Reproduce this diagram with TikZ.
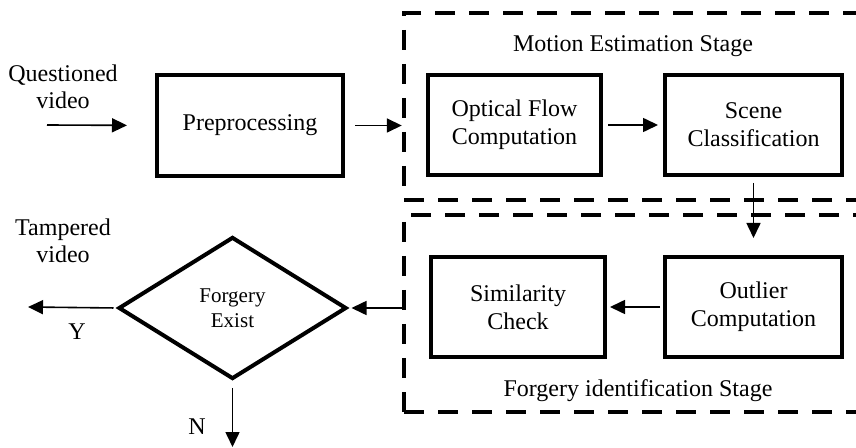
\documentclass[tikz,border=0pt]{standalone}
\usepackage{fontspec}
\setmainfont{Liberation Serif}
\usetikzlibrary{
    shapes.geometric,
    arrows.meta,
    positioning,
    calc
}
\definecolor{bgWhite}{RGB}{255, 255, 255}
\definecolor{lineBlack}{RGB}{0, 0, 0}
\def\picW{856}
\def\picH{448}
\tikzset{
    stepBox/.style={
        rectangle,
        draw=lineBlack,
        line width=2pt,
        fill=bgWhite,
        minimum width=86.5pt,
        minimum height=50pt,
        inner sep=2pt,
        align=center,
        font=\fontsize{12}{14}\selectfont
    },
    decision/.style={
        diamond,
        draw=lineBlack,
        line width=2pt,
        line join=miter,
        fill=bgWhite,
        minimum width=114pt,
        minimum height=71pt,
        inner sep=0pt,
        align=center,
        font=\fontsize{10.5}{12.5}\selectfont
    },
    % Stage frames
    stageFrame/.style={
        rectangle,
        draw=lineBlack,
        line width=2.2pt,
        dash pattern=on 10pt off 7pt,
        inner sep=0pt
    },
    plainText/.style={
        align=center,
        inner sep=0pt,
        text=lineBlack,
        font=\fontsize{12}{13.5}\selectfont
    },
    flowArrow/.style={
        draw=lineBlack,
        line width=0.8pt,
        -{Triangle[length=7.5pt, width=7pt]}
    }
}

\begin{document}
\begin{tikzpicture}[x=0.5pt, y=-0.5pt]
    \useasboundingbox (0,0) rectangle (\picW, \picH);
    \fill[bgWhite] (0,0) rectangle (\picW, \picH);

    % Stage frames (right edge runs off the picture)
    \node[stageFrame, minimum width=238pt, minimum height=93.5pt] (motion) at (642, 106.5) {};
    \node[stageFrame, minimum width=238pt, minimum height=98.5pt] (forgery) at (642, 313.5) {};
    \node[plainText] (motionTitle) at (633, 46) {Motion Estimation Stage};
    \node[plainText] (forgeryTitle) at (638, 391) {Forgery identification Stage};

    % Blocks
    \node[stepBox, minimum width=93pt, minimum height=50.5pt] (pre) at (250, 125.5) {Preprocessing};
    \node[stepBox] (optical) at (514.5, 125) {Optical Flow\\Computation};
    \node[stepBox, minimum width=88.5pt] (scene) at (753.5, 125) {Scene\\Classification};
    \node[stepBox, minimum width=88.5pt] (outlier) at (753.5, 307) {Outlier\\Computation};
    \node[stepBox, minimum width=87pt] (similarity) at (518, 307) {Similarity\\Check};
    \node[decision] (decide) at (232.5, 308) {Forgery\\Exist};

    % Free ends
    \coordinate (input) at (47, 125);
    \coordinate (tampered) at (28, 307);
    \coordinate (genuine) at (232.5, 447);

    \node[plainText] (inLabel) at (63, 87) {Questioned\\video};
    \node[plainText] (outLabel) at (63, 241) {Tampered\\video};
    \node[plainText] (yesLabel) at (77, 332) {Y};
    \node[plainText] (noLabel) at (197, 427) {N};

    % Connectors
    \draw[flowArrow, shorten >=14pt] (input) -- (pre.west);
    \draw[flowArrow, shorten <=5pt] (pre.east) -- (pre.east -| motion.west);
    \draw[flowArrow, shorten <=2.5pt, shorten >=2.5pt] (optical) -- (scene);
    \draw[flowArrow, shorten <=3pt, shorten >=8.5pt] (scene.south) -- (outlier.north);
    \draw[flowArrow, shorten <=1.5pt, shorten >=1.5pt] (outlier) -- (similarity);
    \draw[flowArrow, shorten >=1.5pt] (decide.east -| forgery.west) -- (decide.east);
    \draw[flowArrow, shorten <=1.5pt] (decide.west) -- (tampered);
    \draw[flowArrow, shorten <=3.5pt] (decide.south) -- (genuine);
\end{tikzpicture}
\end{document}
